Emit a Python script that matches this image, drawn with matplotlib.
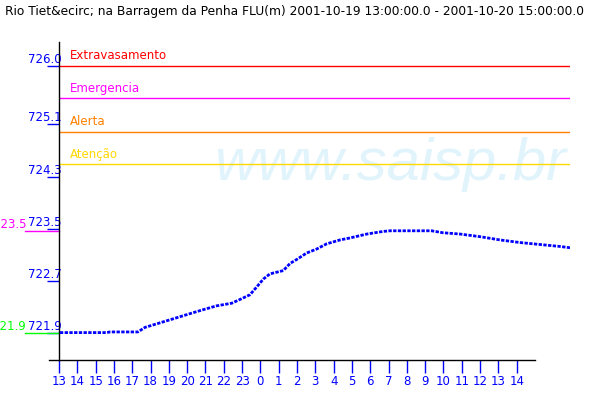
import numpy as np
import matplotlib
matplotlib.use("Agg")
import matplotlib.pyplot as plt
import matplotlib.transforms as mtransforms

# hours since 2001-10-19 13:00 and water level (m)
hours = [0.05, 2.6, 2.79, 4.31, 4.70, 5.52, 6.34, 7.15, 7.86, 8.61, 9.43, 9.98,
         10.43, 10.80, 11.16, 11.52, 12.25, 12.62, 12.98, 13.53, 14.07, 14.62,
         15.35, 15.89, 16.81, 17.70, 18.08, 20.35, 20.97, 21.90, 22.99, 24.09,
         25.18, 26.27, 27.36, 27.91]
levels = [721.91, 721.91, 721.92, 721.92, 721.99, 722.06, 722.13, 722.20, 722.26,
          722.32, 722.36, 722.43, 722.49, 722.61, 722.73, 722.81, 722.86, 722.97,
          723.03, 723.13, 723.19, 723.27, 723.33, 723.36, 723.42, 723.46, 723.47,
          723.47, 723.44, 723.42, 723.38, 723.33, 723.29, 723.26, 723.23, 723.21]

ytick_vals = [726.0, 725.1, 724.3, 723.5, 722.7, 721.9]
xtick_labels = ["13", "14", "15", "16", "17", "18", "19", "20", "21", "22", "23",
                "0", "1", "2", "3", "4", "5", "6", "7", "8", "9", "10", "11",
                "12", "13", "14"]

limit_names = ["Extravasamento", "Emergencia", "Alerta", "Atenção"]
limit_vals = [726.0, 725.5, 724.99, 724.49]
limit_cols = ["#ff0000", "#ff00ff", "#ff8000", "#ffd800"]

title = ("Rio Tiet&ecirc; na Barragem da Penha FLU(m) "
         "2001-10-19 13:00:00.0 - 2001-10-20 15:00:00.0")

fig = plt.figure(figsize=(6, 4), dpi=100)
ax = fig.add_axes([59/600, 40/400, 511/600, 318/400])
ax.set_xlim(0, 27.91)
ax.set_ylim(721.49, 726.363)

for s in ["top", "right"]:
    ax.spines[s].set_visible(False)
ax.spines["bottom"].set_bounds(-0.55, 26)
ax.spines["left"].set_linewidth(1)
ax.spines["bottom"].set_linewidth(1)

# watermark
ax.text(8.45, 724.25, "www.saisp.br", fontsize=43, style="italic",
        family="Liberation Sans",
        color="#e1f4fc", zorder=0, clip_on=True, ha="left", va="baseline")

# limit lines
for name, v, c in zip(limit_names, limit_vals, limit_cols):
    ax.axhline(v, color=c, lw=1, zorder=2)
    ax.text(0.6, v + 0.05, name, color=c, fontsize=8.5, va="bottom", ha="left")

# level series
ax.plot(hours, levels, color="#0000ff", lw=2, ls=(0, (1.2, 0.5)),
        solid_capstyle="butt", zorder=3)

# ticks
ax.set_yticks(ytick_vals, labels=[f"{v:.1f}" for v in ytick_vals])
ax.tick_params(axis="y", direction="out", length=9, width=1, color="#0000ff",
               labelcolor="#0000ff", labelsize=8.5, pad=-11)
for lab in ax.get_yticklabels():
    lab.set_va("bottom")
ax.set_xticks(range(len(xtick_labels)), labels=xtick_labels)
ax.tick_params(axis="x", direction="out", length=9, width=1, color="#0000ff",
               labelcolor="#0000ff", labelsize=8.5, pad=2)

# max / min markers at the left edge
trans = mtransforms.blended_transform_factory(fig.transFigure, ax.transData)
vmax, vmin = max(levels), min(levels)
for v, c in [(vmax, "#ff00ff"), (vmin, "#00ff00")]:
    ax.plot([25/600, 59/600], [v, v], color=c, lw=1, transform=trans, clip_on=False)
    ax.text(26/600, v, f"{v:.1f}", color=c, fontsize=8.5, ha="right",
            va="bottom", transform=trans, clip_on=False)

fig.text(5/600, 1 - 12/400, title, fontsize=8.85, va="center", ha="left")

fig.savefig("out.png", dpi=100)
